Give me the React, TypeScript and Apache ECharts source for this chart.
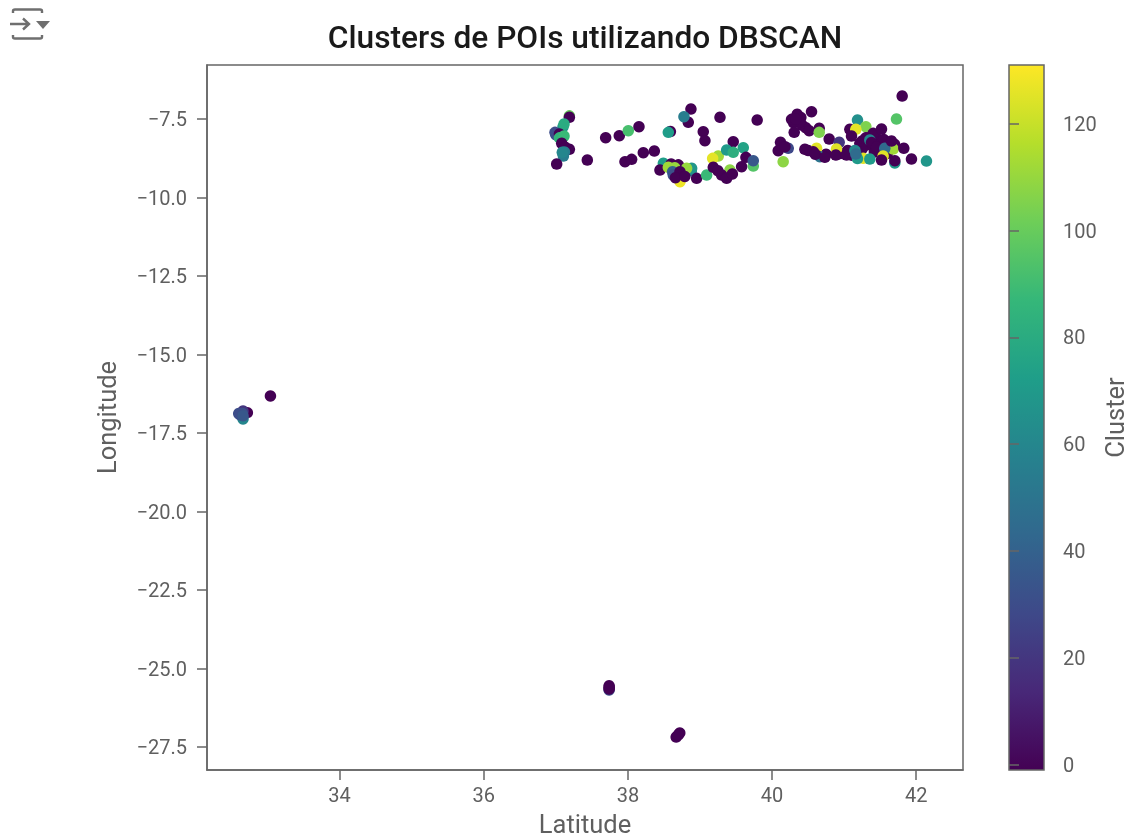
import React, { useEffect, useRef } from "react";
import * as echarts from "echarts";

// [latitude, longitude, cluster]
const denseNoise = [
  [38.72,-9.05,-1],[38.8,-9.15,-1],[38.5,-9.0,-1],[40.4,-7.45,-1],[40.3,-7.62,-1],[40.42,-7.7,-1],[40.47,-7.78,-1],
  [41.25,-8.2,-1],[41.45,-8.1,-1],[41.35,-8.05,-1],[41.5,-8.3,-1],[41.25,-8.45,-1],[41.42,-8.55,-1],[41.1,-8.65,-1],[41.6,-8.6,-1],[41.55,-8.15,-1],[41.7,-8.3,-1],[41.05,-8.5,-1],[40.75,-8.62,-1],[40.5,-8.5,-1],[40.95,-8.6,-1],
];
const centralNorth = [
  [37.188,-7.40,100],[37.188,-7.447,-1],[37.1,-7.75,70],[37.114,-7.659,80],[37.0,-8.0,30],[36.989,-7.925,30],[37.05,-7.98,-1],[37.05,-8.1,85],[37.114,-8.041,88],[37.082,-8.275,-1],[37.188,-8.466,-1],[37.13,-8.40,-1],[37.12,-8.55,55],[37.105,-8.678,55],[37.09,-8.56,60],[37.012,-8.933,-1],[37.437,-8.806,-1],
  [37.692,-8.095,-1],[37.881,-8.031,-1],[38.006,-7.872,92],[38.154,-7.744,-1],[38.59,-7.90,-1],[38.561,-7.925,72],[38.875,-7.182,-1],[38.838,-7.606,-1],[38.778,-7.426,55],[39.278,-7.447,-1],[39.794,-7.532,-1],[39.046,-7.903,-1],[39.069,-8.190,-1],
  [38.214,-8.572,-1],[38.367,-8.519,-1],[37.960,-8.859,-1],[38.052,-8.785,-1],[38.492,-8.912,72],[38.55,-8.98,70],[38.60,-8.93,-1],[38.70,-8.96,-1],[38.445,-9.124,-1],[38.561,-9.039,112],[38.65,-9.05,110],[38.88,-9.15,60],[38.885,-9.071,68],[38.815,-9.071,110],[38.62,-9.18,40],[38.630,-9.283,32],[38.723,-9.177,-1],[38.723,-9.496,128],[38.66,-9.37,-1],[38.79,-9.33,-1],[38.954,-9.390,-1],[39.093,-9.283,88],
  [39.254,-8.678,112],[39.176,-8.753,126],[39.185,-9.039,-1],[39.416,-9.124,108],[39.301,-9.283,-1],[39.25,-9.15,-1],[39.370,-9.390,-1],[39.45,-9.25,-1],[39.601,-8.413,75],[39.462,-8.222,-1],[39.370,-8.487,70],[39.462,-8.562,82],[39.638,-8.721,-1],[39.740,-8.997,95],[39.740,-8.827,35],[39.578,-9.018,-1],
];
const centralEast = [
  [40.155,-8.859,108],[40.118,-8.243,-1],[40.086,-8.509,-1],[40.225,-8.434,28],[40.18,-8.38,-1],[40.548,-7.267,-1],[40.349,-7.351,-1],[40.271,-7.511,-1],[40.386,-7.585,-1],[40.33,-7.50,-1],[40.308,-7.925,-1],[40.516,-7.872,-1],[40.655,-7.797,-1],[40.655,-7.925,105],[40.793,-8.137,-1],[40.932,-8.243,20],
  [40.618,-8.434,125],[40.456,-8.466,-1],[40.571,-8.540,-1],[40.664,-8.700,50],[40.60,-8.62,-1],[40.733,-8.721,-1],[40.895,-8.455,125],[40.886,-8.646,-1],[41.034,-8.646,-1],[41.186,-7.532,65],[41.302,-7.744,105],[41.080,-7.829,-1],[41.163,-7.829,126],[41.103,-8.041,-1],[41.219,-8.275,-1],[41.404,-7.957,-1],[41.519,-7.819,-1],
  [41.311,-8.328,-1],[41.30,-8.10,-1],[41.357,-8.169,60],[41.38,-8.25,-1],[41.450,-8.381,-1],[41.681,-8.455,112],[41.15,-8.5,60],[41.565,-8.434,45],[41.658,-8.201,-1],[41.265,-8.753,125],[41.186,-8.76,70],[41.163,-8.615,45],[41.542,-8.678,125],[41.357,-8.774,70],[41.519,-8.806,-1],[41.704,-8.90,70],[41.704,-8.827,-1],[41.829,-8.434,-1],[41.935,-8.774,-1],[41.727,-7.500,95],[41.806,-6.768,-1],[42.143,-8.838,68],
];
const madeira = [
  [33.04,-16.32,-1],[32.72,-16.85,-1],[32.66,-16.80,20],[32.66,-17.05,60],[32.62,-16.92,32],[32.65,-16.88,32],[32.60,-16.88,30],[32.66,-16.95,35],
];
const southern = [
  [37.74,-25.68,30],[37.74,-25.55,-1],[37.74,-25.60,-1],[37.74,-25.65,-1],[38.72,-27.05,-1],[38.67,-27.18,-1],[38.70,-27.11,-1],
];
const latitudeTicks = [34, 36, 38, 40, 42];
const longitudeTicks = [-7.5, -10, -12.5, -15, -17.5, -20, -22.5, -25, -27.5];
const clusterTicks = [0, 20, 40, 60, 80, 100, 120];
const viridis = ["#440154","#482878","#3e4989","#31688e","#26828e","#1f9e89","#35b779","#6ece58","#b5de2b","#fde725"];

const TEXT = "#5f5f5f";
const LINE = "#666666";
const FONT = "Roboto";
const ICON_PATH =
  "M13 13 V11 Q13 9.5 15 9.5 H40 Q42 9.5 42 11 V13 M13 35 V37 Q13 38.5 15 38.5 H40 Q42 38.5 42 37 V35 M10 24 H29 M23 18.5 L29 24 L23 29.5";

export default function App() {
  const ref = useRef<HTMLDivElement>(null);
  useEffect(() => {
    document.body.style.margin = "0";
    echarts.graphic.registerShape("outputIcon", echarts.graphic.extendPath(ICON_PATH, {}) as any);
    const chart = echarts.init(ref.current!, null, { renderer: "svg" });
    const tickLabel = { color: TEXT, fontFamily: FONT, fontSize: 20 };
    const axisName = { color: TEXT, fontFamily: FONT, fontSize: 25.5, lineHeight: 16 };
    const tickStyle = { color: LINE, width: 1.5 };
    chart.setOption({
      animation: false,
      backgroundColor: "#ffffff",
      title: {
        text: "Clusters de POIs utilizando DBSCAN",
        left: 580,
        top: 16,
        textAlign: "center",
        textStyle: { color: "#1a1a1a", fontFamily: FONT, fontSize: 31.7, fontWeight: 500 },
      },
      grid: [
        { left: 207, top: 65, width: 756, height: 705, show: true, outerBoundsMode: "none", borderColor: LINE, borderWidth: 1.5, backgroundColor: "transparent" },
        {
          left: 1009, top: 65, width: 35, height: 705, show: true, outerBoundsMode: "none", borderColor: LINE, borderWidth: 1.5,
          backgroundColor: new echarts.graphic.LinearGradient(0, 1, 0, 0, viridis.map((color, i) => ({ offset: i / (viridis.length - 1), color }))),
        },
      ],
      xAxis: [
        {
          type: "value", gridIndex: 0, min: 32.16, max: 42.65,
          name: "Latitude", nameLocation: "middle", nameGap: 46, nameTextStyle: axisName,
          axisLine: { show: true, lineStyle: tickStyle },
          axisTick: { show: true, length: 10, customValues: latitudeTicks, lineStyle: tickStyle },
          axisLabel: { ...tickLabel, margin: 15, customValues: latitudeTicks, formatter: (v: number) => String(v) },
          splitLine: { show: false },
        },
        { type: "value", gridIndex: 1, min: 0, max: 1, show: false },
      ],
      yAxis: [
        {
          type: "value", gridIndex: 0, min: -28.23, max: -5.78,
          name: "Longitude", nameLocation: "middle", nameGap: 92, nameTextStyle: axisName,
          axisLine: { show: true, lineStyle: tickStyle },
          axisTick: { show: true, length: 10, customValues: longitudeTicks, lineStyle: tickStyle },
          axisLabel: { ...tickLabel, margin: 20, customValues: longitudeTicks, formatter: (v: number) => v.toFixed(1).replace("-", "\u2212") },
          splitLine: { show: false },
        },
        {
          type: "value", gridIndex: 1, position: "right", min: -1, max: 131,
          name: "Cluster", nameLocation: "middle", nameRotate: 90, nameGap: 63, nameTextStyle: axisName,
          axisLine: { show: false },
          axisTick: { show: true, length: 10, customValues: clusterTicks, lineStyle: tickStyle },
          axisLabel: { ...tickLabel, margin: 19, customValues: clusterTicks, formatter: (v: number) => String(v) },
          splitLine: { show: false },
        },
      ],
      visualMap: { show: false, seriesIndex: 0, dimension: 2, min: -1, max: 131, inRange: { color: viridis } },
      series: [
        {
          type: "scatter", xAxisIndex: 0, yAxisIndex: 0, symbolSize: 11.5,
          data: [...denseNoise, ...centralNorth, ...centralEast, ...madeira, ...southern],
          itemStyle: { opacity: 1 },
        },
        { type: "scatter", xAxisIndex: 1, yAxisIndex: 1, data: [], silent: true },
      ],
      graphic: [
        { type: "outputIcon", x: 0, y: 0, style: { fill: "none", stroke: "#6f6f6f", lineWidth: 2.4 } },
        { type: "polygon", shape: { points: [[36, 21], [50, 21], [43, 29]] }, style: { fill: "#6f6f6f" } },
      ],
    });
    return () => chart.dispose();
  }, []);
  return <div ref={ref} style={{ width: 1129, height: 840, filter: "blur(0.5px)" }} />;
}
